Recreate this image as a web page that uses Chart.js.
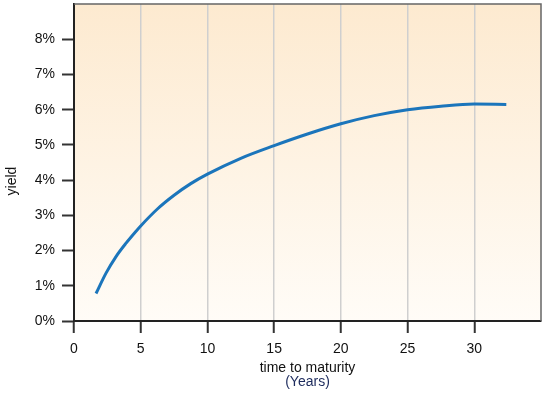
<!DOCTYPE html>
<html>
<head>
<meta charset="utf-8">
<script src="https://cdn.jsdelivr.net/npm/chart.js@4"></script>
<style>
  html, body { margin: 0; padding: 0; background: #fff; }
  #wrap { width: 545px; height: 395px; }
</style>
</head>
<body>
<div id="wrap"><canvas id="yieldChart" width="545" height="395"></canvas></div>
<script>
"use strict";

// yield curve
let maturity = [1.65, 2.4, 3.15, 3.9, 4.65, 5, 6.25, 7.5, 8.75, 10, 12.5, 15, 17.5, 20, 22.5, 25, 27.5, 30, 32.4];
let yieldPct = [0.78, 1.36, 1.83, 2.21, 2.55, 2.7, 3.18, 3.57, 3.9, 4.17, 4.62, 4.98, 5.31, 5.6, 5.83, 6.0, 6.1, 6.16, 6.15];
let xTicks = [0, 5, 10, 15, 20, 25, 30];
let yTicks = [0, 1, 2, 3, 4, 5, 6, 7, 8];

Chart.defaults.font.family = '"Liberation Sans", Arial, sans-serif';
Chart.defaults.font.size = 14;
Chart.defaults.color = '#111';

let ctx = document.getElementById('yieldChart').getContext('2d');

// peach gradient behind the plot, frame on top/right, and the axis titles
let decor = {
    id: 'decor',
    beforeDraw(chart) {
        let a = chart.chartArea, c = chart.ctx;
        let g = c.createLinearGradient(0, a.top, 0, a.bottom);
        g.addColorStop(0, 'rgb(253,234,208)');
        g.addColorStop(1, 'rgb(255,252,247)');
        c.save();
        c.fillStyle = g;
        c.fillRect(a.left, a.top, a.right - a.left, a.bottom - a.top);
        c.restore();
    },
    afterDraw(chart) {
        let a = chart.chartArea, c = chart.ctx;
        c.save();
        c.strokeStyle = '#666';
        c.lineWidth = 1.5;
        c.beginPath();
        c.moveTo(a.left, a.top);
        c.lineTo(a.right, a.top);
        c.lineTo(a.right, a.bottom);
        c.stroke();

        c.font = '14px "Liberation Sans", Arial, sans-serif';
        c.textAlign = 'center';
        c.textBaseline = 'middle';
        let cx = (a.left + a.right) / 2;
        c.fillStyle = '#111';
        c.fillText('time to maturity', cx, 368);
        c.fillStyle = '#1c2a5c';
        c.fillText('(Years)', cx, 382);

        c.fillStyle = '#111';
        c.translate(12, 181);
        c.rotate(-Math.PI / 2);
        c.fillText('yield', 0, 0);
        c.restore();
    }
};

let yieldChart = new Chart(ctx, {
    type: 'line',
    data: {
        datasets: [{
            label: 'yield',
            data: maturity.map((m, i) => ({ x: m, y: yieldPct[i] })),
            borderColor: '#1b75bb',
            borderWidth: 3,
            pointRadius: 0,
            fill: false,
            cubicInterpolationMode: 'monotone'
        }]
    },
    options: {
        responsive: false,
        animation: false,
        layout: { padding: { top: 4, right: 4, left: 0, bottom: 0 } },
        plugins: { legend: { display: false }, tooltip: { enabled: false } },
        scales: {
            x: {
                type: 'linear',
                min: 0,
                max: 35,
                afterBuildTicks: s => { s.ticks = xTicks.map(v => ({ value: v })); },
                afterFit: s => { s.height = 74; s.paddingLeft = 0; s.paddingRight = 0; },
                ticks: { padding: 8, maxRotation: 0 },
                grid: {
                    color: c => (c.tick && c.tick.value > 0 ? '#cfcfcf' : 'rgba(0,0,0,0)'),
                    lineWidth: 1.5,
                    tickColor: '#333',
                    tickLength: 12,
                    tickWidth: 2
                },
                border: { color: '#222', width: 2 }
            },
            y: {
                min: 0,
                max: 9,
                afterBuildTicks: s => { s.ticks = yTicks.map(v => ({ value: v })); },
                afterFit: s => { s.width = 74; s.paddingTop = 0; s.paddingBottom = 0; },
                ticks: { padding: 7, callback: v => v + '%' },
                grid: {
                    drawOnChartArea: false,
                    tickColor: '#333',
                    tickLength: 12,
                    tickWidth: 2
                },
                border: { color: '#222', width: 2 }
            }
        }
    },
    plugins: [decor]
});
</script>
</body>
</html>
